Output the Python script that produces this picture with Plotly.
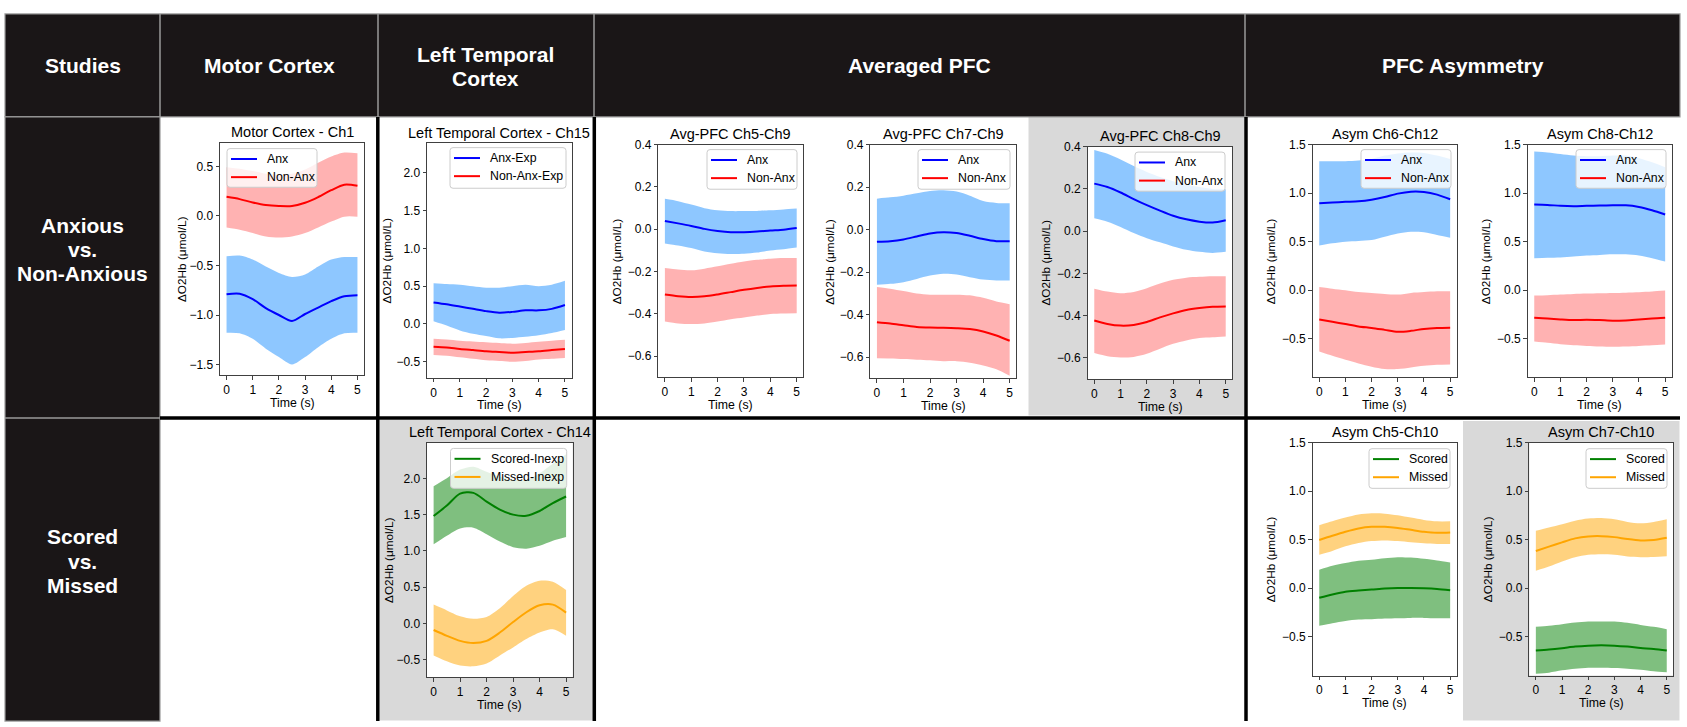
import plotly.graph_objects as go

W, H = 1687, 727

# ---------------- data ----------------
T = [0, 0.5, 1, 1.5, 2, 2.5, 3, 3.5, 4, 4.5, 5]
X_TICKS = [0, 1, 2, 3, 4, 5]

# Motor Cortex - Ch1
motor_anx_mean = [-0.79, -0.785, -0.84, -0.93, -1.0, -1.06, -0.99, -0.925, -0.86, -0.81, -0.80]
motor_anx_upper = [-0.407, -0.40, -0.44, -0.51, -0.575, -0.615, -0.59, -0.51, -0.44, -0.415, -0.415]
motor_anx_lower = [-1.18, -1.185, -1.24, -1.34, -1.425, -1.50, -1.425, -1.325, -1.24, -1.185, -1.18]
motor_non_mean = [0.193, 0.17, 0.136, 0.11, 0.10, 0.10, 0.133, 0.19, 0.26, 0.316, 0.306]
motor_non_upper = [0.493, 0.477, 0.453, 0.427, 0.417, 0.427, 0.47, 0.537, 0.60, 0.64, 0.633]
motor_non_lower = [-0.117, -0.14, -0.173, -0.207, -0.217, -0.207, -0.173, -0.117, -0.057, -0.007, -0.007]

# Left Temporal Cortex - Ch15
lt15_anx_mean = [0.285, 0.26, 0.23, 0.20, 0.17, 0.15, 0.16, 0.18, 0.18, 0.20, 0.25]
lt15_anx_upper = [0.54, 0.53, 0.52, 0.50, 0.48, 0.48, 0.50, 0.52, 0.50, 0.52, 0.57]
lt15_anx_lower = [0.037, -0.02, -0.085, -0.13, -0.16, -0.19, -0.185, -0.17, -0.15, -0.12, -0.08]
lt15_non_mean = [-0.30, -0.31, -0.33, -0.345, -0.36, -0.37, -0.38, -0.37, -0.36, -0.345, -0.33]
lt15_non_upper = [-0.195, -0.205, -0.22, -0.23, -0.24, -0.25, -0.26, -0.25, -0.235, -0.22, -0.21]
lt15_non_lower = [-0.41, -0.42, -0.44, -0.46, -0.48, -0.49, -0.50, -0.49, -0.47, -0.46, -0.45]

# Avg-PFC Ch5-Ch9
p59_anx_mean = [0.039, 0.028, 0.016, 0.002, -0.008, -0.014, -0.014, -0.011, -0.006, -0.002, 0.006]
p59_anx_upper = [0.144, 0.133, 0.117, 0.10, 0.09, 0.086, 0.086, 0.087, 0.09, 0.094, 0.098]
p59_anx_lower = [-0.067, -0.077, -0.089, -0.105, -0.113, -0.117, -0.116, -0.11, -0.10, -0.094, -0.086]
p59_non_mean = [-0.308, -0.316, -0.32, -0.317, -0.308, -0.297, -0.286, -0.277, -0.27, -0.267, -0.266]
p59_non_upper = [-0.183, -0.19, -0.194, -0.186, -0.175, -0.163, -0.152, -0.144, -0.139, -0.136, -0.136]
p59_non_lower = [-0.436, -0.445, -0.448, -0.445, -0.436, -0.425, -0.417, -0.408, -0.40, -0.398, -0.397]

# Avg-PFC Ch7-Ch9
p79_anx_mean = [-0.057, -0.054, -0.046, -0.032, -0.018, -0.012, -0.016, -0.029, -0.044, -0.054, -0.055]
p79_anx_upper = [0.146, 0.152, 0.16, 0.171, 0.182, 0.185, 0.179, 0.16, 0.135, 0.126, 0.124]
p79_anx_lower = [-0.259, -0.255, -0.247, -0.232, -0.216, -0.208, -0.211, -0.224, -0.235, -0.239, -0.239]
p79_non_mean = [-0.436, -0.442, -0.45, -0.458, -0.461, -0.462, -0.464, -0.468, -0.479, -0.498, -0.523]
p79_non_upper = [-0.27, -0.278, -0.289, -0.301, -0.306, -0.306, -0.306, -0.309, -0.321, -0.338, -0.351]
p79_non_lower = [-0.605, -0.606, -0.609, -0.612, -0.615, -0.619, -0.619, -0.626, -0.639, -0.657, -0.688]

# Avg-PFC Ch8-Ch9
p89_anx_mean = [0.225, 0.209, 0.183, 0.152, 0.123, 0.097, 0.073, 0.056, 0.045, 0.041, 0.052]
p89_anx_upper = [0.384, 0.366, 0.339, 0.308, 0.28, 0.256, 0.236, 0.22, 0.209, 0.20, 0.198]
p89_anx_lower = [0.061, 0.045, 0.02, -0.009, -0.033, -0.053, -0.072, -0.088, -0.098, -0.103, -0.098]
p89_non_mean = [-0.423, -0.439, -0.447, -0.444, -0.43, -0.408, -0.389, -0.373, -0.364, -0.358, -0.356]
p89_non_upper = [-0.272, -0.286, -0.294, -0.288, -0.27, -0.248, -0.23, -0.22, -0.216, -0.213, -0.213]
p89_non_lower = [-0.577, -0.592, -0.598, -0.595, -0.58, -0.556, -0.533, -0.517, -0.506, -0.502, -0.498]

# Asym Ch6-Ch12
a612_anx_mean = [0.896, 0.903, 0.91, 0.916, 0.933, 0.96, 0.995, 1.015, 1.012, 0.985, 0.937]
a612_anx_upper = [1.33, 1.33, 1.33, 1.336, 1.353, 1.387, 1.41, 1.42, 1.415, 1.387, 1.353]
a612_anx_lower = [0.459, 0.483, 0.50, 0.507, 0.517, 0.551, 0.585, 0.602, 0.596, 0.568, 0.541]
a612_non_mean = [-0.302, -0.326, -0.35, -0.374, -0.39, -0.41, -0.43, -0.42, -0.40, -0.39, -0.387]
a612_non_upper = [0.032, 0.015, -0.002, -0.02, -0.029, -0.039, -0.046, -0.029, -0.02, -0.012, -0.012]
a612_non_lower = [-0.633, -0.677, -0.718, -0.756, -0.79, -0.814, -0.814, -0.797, -0.78, -0.77, -0.766]

# Asym Ch8-Ch12
a812_anx_mean = [0.882, 0.879, 0.869, 0.865, 0.869, 0.872, 0.875, 0.875, 0.858, 0.824, 0.78]
a812_anx_upper = [1.43, 1.42, 1.404, 1.387, 1.38, 1.38, 1.387, 1.387, 1.36, 1.319, 1.268]
a812_anx_lower = [0.329, 0.333, 0.336, 0.346, 0.357, 0.363, 0.37, 0.37, 0.357, 0.329, 0.295]
a812_non_mean = [-0.285, -0.292, -0.302, -0.309, -0.305, -0.309, -0.316, -0.312, -0.302, -0.292, -0.285]
a812_non_upper = [-0.056, -0.053, -0.046, -0.039, -0.036, -0.032, -0.029, -0.026, -0.022, -0.015, -0.005]
a812_non_lower = [-0.531, -0.544, -0.558, -0.568, -0.575, -0.582, -0.585, -0.582, -0.575, -0.568, -0.561]

# Left Temporal Cortex - Ch14
lt14_sc_mean = [1.48, 1.625, 1.79, 1.80, 1.68, 1.57, 1.50, 1.485, 1.55, 1.66, 1.75]
lt14_sc_upper = [1.89, 2.0, 2.12, 2.16, 2.09, 2.02, 1.98, 1.98, 2.07, 2.2, 2.33]
lt14_sc_lower = [1.09, 1.21, 1.31, 1.32, 1.23, 1.13, 1.05, 1.03, 1.07, 1.14, 1.19]
lt14_mi_mean = [-0.09, -0.17, -0.24, -0.27, -0.24, -0.125, 0.02, 0.155, 0.25, 0.26, 0.15]
lt14_mi_upper = [0.26, 0.18, 0.10, 0.065, 0.09, 0.21, 0.38, 0.52, 0.59, 0.575, 0.46]
lt14_mi_lower = [-0.44, -0.52, -0.58, -0.59, -0.55, -0.44, -0.33, -0.215, -0.125, -0.08, -0.17]

# Asym Ch5-Ch10
a510_sc_mean = [-0.099, -0.065, -0.037, -0.024, -0.014, -0.003, 0.003, 0.003, 0.0, -0.007, -0.02]
a510_sc_upper = [0.19, 0.231, 0.259, 0.282, 0.293, 0.31, 0.32, 0.316, 0.303, 0.286, 0.265]
a510_sc_lower = [-0.388, -0.36, -0.337, -0.323, -0.32, -0.313, -0.31, -0.306, -0.306, -0.31, -0.31]
a510_mi_mean = [0.497, 0.541, 0.582, 0.616, 0.633, 0.633, 0.622, 0.602, 0.582, 0.571, 0.575]
a510_mi_upper = [0.65, 0.69, 0.728, 0.759, 0.772, 0.769, 0.752, 0.728, 0.704, 0.69, 0.69]
a510_mi_lower = [0.344, 0.384, 0.432, 0.466, 0.486, 0.493, 0.486, 0.473, 0.463, 0.456, 0.456]

# Asym Ch7-Ch10
a710_sc_mean = [-0.643, -0.633, -0.619, -0.602, -0.592, -0.588, -0.592, -0.602, -0.616, -0.626, -0.643]
a710_sc_upper = [-0.398, -0.388, -0.371, -0.354, -0.344, -0.344, -0.344, -0.357, -0.378, -0.398, -0.422]
a710_sc_lower = [-0.881, -0.871, -0.847, -0.83, -0.82, -0.82, -0.823, -0.83, -0.84, -0.857, -0.867]
a710_mi_mean = [0.384, 0.429, 0.473, 0.514, 0.534, 0.537, 0.527, 0.507, 0.493, 0.497, 0.52]
a710_mi_upper = [0.592, 0.626, 0.66, 0.697, 0.718, 0.724, 0.711, 0.684, 0.67, 0.684, 0.711]
a710_mi_lower = [0.18, 0.224, 0.276, 0.32, 0.344, 0.35, 0.344, 0.327, 0.32, 0.323, 0.33]

# table texts
column_headers = ["Studies", "Motor Cortex", "Left Temporal<br>Cortex", "Averaged PFC", "PFC Asymmetry"]
row_headers = [["Anxious", "vs.", "Non-Anxious"], ["Scored", "vs.", "Missed"]]

# ---------------- styles ----------------
LINE_COL = {"blue": "#0000ff", "red": "#ff0000", "green": "#008000", "orange": "#ffa500"}
FILL_COL = {"blue": "rgba(30,144,255,0.5)", "red": "rgba(255,0,0,0.3)",
            "green": "rgba(0,128,0,0.5)", "orange": "rgba(255,165,0,0.5)"}
FONT = "Liberation Sans, Arial, Helvetica, sans-serif"
BLACK = "#1a1617"
GRAYBG = "#d9d9d9"


def X(v):
    return v / W


def Y(v):
    return 1 - v / H


panels = [
    dict(title="Motor Cortex - Ch1", frame=(220, 364, 137, 372), yr=(-1.61, 0.74), dt=0.5, ylx=38,
         series=[("Anx", motor_anx_mean, motor_anx_lower, motor_anx_upper, "blue"),
                 ("Non-Anx", motor_non_mean, motor_non_lower, motor_non_upper, "red")],
         legend=(227, 317, 143, 182)),
    dict(title="Left Temporal Cortex - Ch15", frame=(427, 571.5, 137.5, 374.3), yr=(-0.71, 2.39), dt=0.5, ylx=40,
         series=[("Anx-Exp", lt15_anx_mean, lt15_anx_lower, lt15_anx_upper, "blue"),
                 ("Non-Anx-Exp", lt15_non_mean, lt15_non_lower, lt15_non_upper, "red")],
         legend=(450, 566, 142, 183)),
    dict(title="Avg-PFC Ch5-Ch9", frame=(658.3, 803.3, 139, 374), yr=(-0.7, 0.4), dt=0.2, ylx=41,
         series=[("Anx", p59_anx_mean, p59_anx_lower, p59_anx_upper, "blue"),
                 ("Non-Anx", p59_non_mean, p59_non_lower, p59_non_upper, "red")],
         legend=(707, 797, 144, 184)),
    dict(title="Avg-PFC Ch7-Ch9", frame=(870.3, 1016.3, 139, 375), yr=(-0.7, 0.4), dt=0.2, ylx=41,
         series=[("Anx", p79_anx_mean, p79_anx_lower, p79_anx_upper, "blue"),
                 ("Non-Anx", p79_non_mean, p79_non_lower, p79_non_upper, "red")],
         legend=(918, 1010, 144, 184)),
    dict(title="Avg-PFC Ch8-Ch9", frame=(1087.7, 1232.3, 141, 375.7), yr=(-0.7, 0.4), dt=0.2, ylx=42,
         series=[("Anx", p89_anx_mean, p89_anx_lower, p89_anx_upper, "blue"),
                 ("Non-Anx", p89_non_mean, p89_non_lower, p89_non_upper, "red")],
         legend=(1135, 1225, 146.5, 186)),
    dict(title="Asym Ch6-Ch12", frame=(1312.7, 1456.7, 139, 374), yr=(-0.9, 1.5), dt=0.5, ylx=41.5,
         series=[("Anx", a612_anx_mean, a612_anx_lower, a612_anx_upper, "blue"),
                 ("Non-Anx", a612_non_mean, a612_non_lower, a612_non_upper, "red")],
         legend=(1361, 1451, 144, 183)),
    dict(title="Asym Ch8-Ch12", frame=(1527.7, 1671.7, 139, 374), yr=(-0.9, 1.5), dt=0.5, ylx=41.5,
         series=[("Anx", a812_anx_mean, a812_anx_lower, a812_anx_upper, "blue"),
                 ("Non-Anx", a812_non_mean, a812_non_lower, a812_non_upper, "red")],
         legend=(1576, 1666, 144, 183)),
    dict(title="Left Temporal Cortex - Ch14", frame=(427, 572.7, 440, 676.7), yr=(-0.74, 2.49), dt=0.5, ylx=38,
         series=[("Scored-Inexp", lt14_sc_mean, lt14_sc_lower, lt14_sc_upper, "green"),
                 ("Missed-Inexp", lt14_mi_mean, lt14_mi_lower, lt14_mi_upper, "orange")],
         legend=(450.5, 566.7, 445.7, 486)),
    dict(title="Asym Ch5-Ch10", frame=(1312.7, 1456.7, 440, 675), yr=(-0.9, 1.5), dt=0.5, ylx=41.5,
         series=[("Scored", a510_sc_mean, a510_sc_lower, a510_sc_upper, "green"),
                 ("Missed", a510_mi_mean, a510_mi_lower, a510_mi_upper, "orange")],
         legend=(1369, 1450, 446, 486)),
    dict(title="Asym Ch7-Ch10", frame=(1529.3, 1673.3, 440, 675), yr=(-0.9, 1.5), dt=0.5, ylx=41.3,
         series=[("Scored", a710_sc_mean, a710_sc_lower, a710_sc_upper, "green"),
                 ("Missed", a710_mi_mean, a710_mi_lower, a710_mi_upper, "orange")],
         legend=(1586, 1667, 446, 486)),
]

fig = go.Figure()
shapes = []
annotations = []


def rect(x0, y0, x1, y1, fill, line=None, lw=0, layer="below"):
    shapes.append(dict(type="rect", xref="paper", yref="paper", x0=X(x0), x1=X(x1), y0=Y(y1), y1=Y(y0),
                       fillcolor=fill, line=dict(color=line or fill, width=lw), layer=layer))


def seg(x0, y0, x1, y1, color, lw, layer="above"):
    shapes.append(dict(type="line", xref="paper", yref="paper", x0=X(x0), x1=X(x1), y0=Y(y0), y1=Y(y1),
                       line=dict(color=color, width=lw), layer=layer))


def text(x, y, s, size, color="black", bold=False, angle=0, xanchor="center", yanchor="middle"):
    annotations.append(dict(xref="paper", yref="paper", x=X(x), y=Y(y), text=("<b>%s</b>" % s) if bold else s,
                            showarrow=False, xanchor=xanchor, yanchor=yanchor, textangle=angle,
                            borderpad=0, font=dict(family=FONT, size=size, color=color)))


def rrect_path(x0, y0, x1, y1, r=3):
    return ("M {a},{b} L {c},{b} Q {d},{b} {d},{e} L {d},{f} Q {d},{g} {c},{g} L {a},{g} "
            "Q {h},{g} {h},{f} L {h},{e} Q {h},{b} {a},{b} Z").format(
        a=X(x0 + r), b=Y(y0), c=X(x1 - r), d=X(x1), e=Y(y0 + r), f=Y(y1 - r), g=Y(y1), h=X(x0))


# ---- table backgrounds ----
rect(1028.5, 111, 1244.5, 412.5, GRAYBG)      # Avg-PFC Ch8-Ch9 cell
rect(379.5, 417, 593, 720.5, GRAYBG)          # LT Ch14 cell
rect(1463, 418, 1679.5, 720.5, GRAYBG)        # Asym Ch7-Ch10 cell
for p in panels:
    x0, x1, y0, y1 = p["frame"]
    rect(x0, y0, x1, y1, "white")

rect(5, 7, 1680, 111, BLACK, "#9a9a9a", 1.2, layer="above")
rect(5, 111, 160, 721, BLACK, "#9a9a9a", 1.2, layer="above")
for xv in [160, 378, 594, 1245]:
    seg(xv, 7, xv, 111, "#9a9a9a", 1.5)
seg(5, 415, 160, 415, "#9a9a9a", 1.5)
# thick black cell borders
for xv in [377.8, 594.3, 1246]:
    seg(xv, 111, xv, 721, "black", 3.5)
seg(160, 415, 1680, 415, "black", 3.5)

# header texts
hdr_x = [82.5, 269, 486, 919.5, 1462.5]
for s, xc in zip(column_headers, hdr_x):
    if "<br>" in s:
        a, b = s.split("<br>")
        text(xc, 48, a, 21, "white", True)
        text(xc, 72, b, 21, "white", True)
    else:
        text(xc, 59, s, 21, "white", True)
row_y = [[220.5, 245, 269], [535, 559.5, 584]]
for lines, ys in zip(row_headers, row_y):
    for s, yv in zip(lines, ys):
        text(82.5, yv, s, 21, "white", True)

# ---- subplots ----
layout_axes = {}
for i, p in enumerate(panels, start=1):
    x0, x1, y0, y1 = p["frame"]
    xa = "x" if i == 1 else "x%d" % i
    ya = "y" if i == 1 else "y%d" % i
    for name, mean, lo, hi, col in p["series"]:
        fig.add_trace(go.Scatter(x=T, y=lo, xaxis=xa, yaxis=ya, mode="lines",
                                 line=dict(width=0, shape="spline", smoothing=0.8),
                                 showlegend=False, hoverinfo="skip"))
        fig.add_trace(go.Scatter(x=T, y=hi, xaxis=xa, yaxis=ya, mode="lines", fill="tonexty",
                                 fillcolor=FILL_COL[col], line=dict(width=0, shape="spline", smoothing=0.8),
                                 showlegend=False, hoverinfo="skip"))
    for name, mean, lo, hi, col in p["series"]:
        fig.add_trace(go.Scatter(x=T, y=mean, xaxis=xa, yaxis=ya, mode="lines", name=name,
                                 line=dict(width=2, color=LINE_COL[col], shape="spline", smoothing=0.8),
                                 showlegend=False))
    common = dict(showline=True, linecolor="#404040", linewidth=1, mirror=True, ticks="outside",
                  ticklen=3.5, tickwidth=1, tickcolor="#404040", showgrid=False, zeroline=False,
                  tickfont=dict(family=FONT, size=12, color="black"), fixedrange=True)
    layout_axes["xaxis" if i == 1 else "xaxis%d" % i] = dict(
        domain=[X(x0), X(x1)], anchor=ya, range=[-0.25, 5.25], tickmode="array", tickvals=X_TICKS, **common)
    layout_axes["yaxis" if i == 1 else "yaxis%d" % i] = dict(
        domain=[Y(y1), Y(y0)], anchor=xa, range=list(p["yr"]), tick0=0, dtick=p["dt"],
        tickformat=".1f", **common)

    # titles / axis labels
    text((x0 + x1) / 2, y0 - 10.5, p["title"], 14.5)
    text((x0 + x1) / 2, y1 + 28, "Time (s)", 12.3)
    text(x0 - p["ylx"], (y0 + y1) / 2, "ΔO2Hb (μmol/L)", 11.8, angle=-90)

    # legend box
    lx0, lx1, ly0, ly1 = p["legend"]
    shapes.append(dict(type="path", xref="paper", yref="paper", path=rrect_path(lx0, ly0, lx1, ly1),
                       fillcolor="rgba(255,255,255,0.8)", line=dict(color="#cccccc", width=1), layer="above"))
    for k, (name, mean, lo, hi, col) in enumerate(p["series"]):
        yy = ly0 + 10.5 + 18.3 * k
        seg(lx0 + 4, yy, lx0 + 30, yy, LINE_COL[col], 2)
        text(lx0 + 39, yy, name, 12.3, xanchor="left")

fig.update_layout(
    width=W, height=H, margin=dict(l=0, r=0, t=0, b=0),
    paper_bgcolor="white", plot_bgcolor="rgba(0,0,0,0)",
    showlegend=False, shapes=shapes, annotations=annotations,
    font=dict(family=FONT, color="black"),
    **layout_axes,
)

fig.write_html("out.html", config={"displayModeBar": False},
               post_script="document.body.style.margin='0';document.body.style.overflow='hidden';")
